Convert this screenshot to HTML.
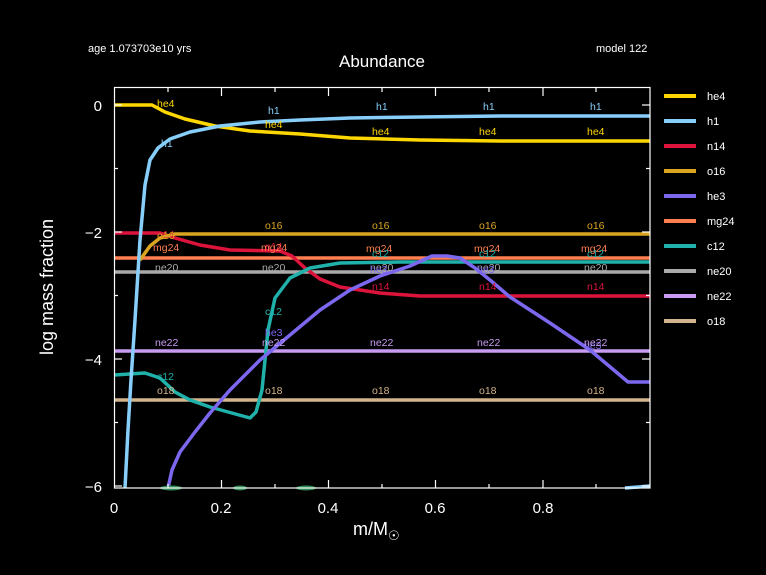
<!DOCTYPE html>
<html><head><meta charset="utf-8"><style>
html,body{margin:0;padding:0;background:#000;}
svg{display:block;font-family:"Liberation Sans",sans-serif;}
</style></head><body>
<svg width="766" height="575" viewBox="0 0 766 575" xmlns="http://www.w3.org/2000/svg">
<rect width="766" height="575" fill="#000"/>
<text x="88" y="52" fill="#fff" font-size="11">age 1.073703e10 yrs</text>
<text x="596" y="52" fill="#fff" font-size="11">model 122</text>
<text x="382" y="67" fill="#fff" font-size="17" text-anchor="middle">Abundance</text>
<g fill="none" stroke-width="3.5" stroke-linejoin="round">
<!-- mg24 -->
<line x1="114" y1="258" x2="650" y2="258" stroke="#ff7f50"/>
<!-- ne20 -->
<line x1="114" y1="272" x2="650" y2="272" stroke="#aaaaaa"/>
<!-- ne22 -->
<line x1="114" y1="351" x2="650" y2="351" stroke="#c89bf2"/>
<!-- o18 -->
<line x1="114" y1="400" x2="650" y2="400" stroke="#d2b48c"/>
<!-- n14 -->
<polyline stroke="#dc143c" points="114,233 160,233 175,238 200,245 230,250 280,251 292,256 305,268 320,279 340,287 380,293 420,296 650,296"/>
<!-- o16 -->
<polyline stroke="#daa520" points="140,260 150,246 160,238 175,234 200,234 650,234"/>
<!-- c12 -->
<polyline stroke="#20b2aa" points="114,375 145,373 160,378 175,392 190,400 210,407 250,418 256,412 262,390 268,330 275,298 290,278 310,268 340,263 400,262 650,262"/>
<!-- he3 -->
<polyline stroke="#7b68ee" points="168,488 172,470 180,452 195,432 210,413 230,390 260,360 290,335 320,310 350,290 380,276 410,266 432,256 447,256 460,258 475,268 490,280 510,297 550,323 590,350 628,382 650,382"/>
<!-- he4 -->
<polyline stroke="#ffd700" points="114,105 152,105 165,112 185,119 215,126 250,131 300,134 350,138 420,140 500,141 650,141"/>
<!-- h1 -->
<polyline stroke="#87cefa" points="125,488 128,430 131,380 135,320 140,240 145,185 150,160 158,148 170,139 190,132 220,126 260,122 300,120 350,118 420,117 500,116 650,116"/>
<polyline stroke="#87cefa" points="625,488 650,486"/>
</g>
<g fill="#2e8b57">
<ellipse cx="171" cy="488" rx="11" ry="2.5"/>
<ellipse cx="240" cy="488" rx="7" ry="2.5"/>
<ellipse cx="306" cy="488" rx="10" ry="2.5"/>
</g>
<g font-size="10.5">
<g fill="#ffd700"><text x="157" y="107">he4</text><text x="265" y="128">he4</text><text x="372" y="135">he4</text><text x="479" y="135">he4</text><text x="587" y="135">he4</text></g>
<g fill="#87cefa"><text x="161" y="147">h1</text><text x="268" y="114">h1</text><text x="376" y="110">h1</text><text x="483" y="110">h1</text><text x="590" y="110">h1</text></g>
<g fill="#dc143c"><text x="157" y="238">n14</text><text x="265" y="250">n14</text><text x="372" y="290">n14</text><text x="479" y="290">n14</text><text x="587" y="290">n14</text></g>
<g fill="#daa520"><text x="157" y="239">o16</text><text x="265" y="229">o16</text><text x="372" y="229">o16</text><text x="479" y="229">o16</text><text x="587" y="229">o16</text></g>
<g fill="#ff7f50"><text x="153" y="251">mg24</text><text x="261" y="251">mg24</text><text x="366" y="252">mg24</text><text x="474" y="252">mg24</text><text x="581" y="252">mg24</text></g>
<g fill="#20b2aa"><text x="157" y="380">c12</text><text x="265" y="315">c12</text><text x="372" y="257">c12</text><text x="479" y="257">c12</text><text x="587" y="257">c12</text></g>
<g fill="#aaaaaa"><text x="155" y="271">ne20</text><text x="262" y="271">ne20</text><text x="370" y="271">ne20</text><text x="477" y="271">ne20</text><text x="584" y="271">ne20</text></g>
<g fill="#7b68ee"><text x="265" y="336">he3</text><text x="370" y="273">he3</text><text x="477" y="273">he3</text><text x="584" y="349">he3</text></g>
<g fill="#c89bf2"><text x="155" y="346">ne22</text><text x="262" y="346">ne22</text><text x="370" y="346">ne22</text><text x="477" y="346">ne22</text><text x="584" y="346">ne22</text></g>
<g fill="#d2b48c"><text x="157" y="394">o18</text><text x="265" y="394">o18</text><text x="372" y="394">o18</text><text x="479" y="394">o18</text><text x="587" y="394">o18</text></g>
</g>
<!-- frame -->
<rect x="114.5" y="87.5" width="535.5" height="400.5" fill="none" stroke="#fff" stroke-width="1.2"/>
<g stroke="#fff" stroke-width="1.2">
<line x1="221.5" y1="488" x2="221.5" y2="480"/><line x1="328.5" y1="488" x2="328.5" y2="480"/><line x1="435.5" y1="488" x2="435.5" y2="480"/><line x1="543" y1="488" x2="543" y2="480"/>
<line x1="168" y1="488" x2="168" y2="484"/><line x1="275" y1="488" x2="275" y2="484"/><line x1="382" y1="488" x2="382" y2="484"/><line x1="489" y1="488" x2="489" y2="484"/><line x1="596" y1="488" x2="596" y2="484"/>
<line x1="221.5" y1="88" x2="221.5" y2="96"/><line x1="328.5" y1="88" x2="328.5" y2="96"/><line x1="435.5" y1="88" x2="435.5" y2="96"/><line x1="543" y1="88" x2="543" y2="96"/>
<line x1="168" y1="88" x2="168" y2="92"/><line x1="275" y1="88" x2="275" y2="92"/><line x1="382" y1="88" x2="382" y2="92"/><line x1="489" y1="88" x2="489" y2="92"/><line x1="596" y1="88" x2="596" y2="92"/>
<line x1="114" y1="105" x2="122" y2="105"/><line x1="114" y1="232" x2="122" y2="232"/><line x1="114" y1="359" x2="122" y2="359"/><line x1="114" y1="486" x2="122" y2="486"/>
<line x1="114" y1="168.5" x2="118" y2="168.5"/><line x1="114" y1="295.5" x2="118" y2="295.5"/><line x1="114" y1="422.5" x2="118" y2="422.5"/>
<line x1="650" y1="105" x2="642" y2="105"/><line x1="650" y1="232" x2="642" y2="232"/><line x1="650" y1="359" x2="642" y2="359"/><line x1="650" y1="486" x2="642" y2="486"/>
<line x1="650" y1="168.5" x2="646" y2="168.5"/><line x1="650" y1="295.5" x2="646" y2="295.5"/><line x1="650" y1="422.5" x2="646" y2="422.5"/>
</g>
<g fill="#fff" font-size="15">
<text x="114" y="513" text-anchor="middle">0</text>
<text x="221" y="513" text-anchor="middle">0.2</text>
<text x="328" y="513" text-anchor="middle">0.4</text>
<text x="435" y="513" text-anchor="middle">0.6</text>
<text x="543" y="513" text-anchor="middle">0.8</text>
<text x="102" y="111" text-anchor="end">0</text>
<text x="102" y="238" text-anchor="end">−2</text>
<text x="102" y="365" text-anchor="end">−4</text>
<text x="102" y="492" text-anchor="end">−6</text>
</g>
<text x="353" y="535" fill="#fff" font-size="18">m/M<tspan font-size="13" dy="5">☉</tspan></text>
<text transform="translate(53,287) rotate(-90)" fill="#fff" font-size="18" text-anchor="middle">log mass fraction</text>
<!-- legend -->
<g stroke-width="4">
<line x1="664" y1="96" x2="696" y2="96" stroke="#ffd700"/>
<line x1="664" y1="121" x2="696" y2="121" stroke="#87cefa"/>
<line x1="664" y1="146" x2="696" y2="146" stroke="#dc143c"/>
<line x1="664" y1="171" x2="696" y2="171" stroke="#daa520"/>
<line x1="664" y1="196" x2="696" y2="196" stroke="#7b68ee"/>
<line x1="664" y1="221" x2="696" y2="221" stroke="#ff7f50"/>
<line x1="664" y1="246" x2="696" y2="246" stroke="#20b2aa"/>
<line x1="664" y1="271" x2="696" y2="271" stroke="#aaaaaa"/>
<line x1="664" y1="296" x2="696" y2="296" stroke="#c89bf2"/>
<line x1="664" y1="321" x2="696" y2="321" stroke="#d2b48c"/>
</g>
<g fill="#fff" font-size="11">
<text x="707" y="100">he4</text><text x="707" y="125">h1</text><text x="707" y="150">n14</text><text x="707" y="175">o16</text><text x="707" y="200">he3</text><text x="707" y="225">mg24</text><text x="707" y="250">c12</text><text x="707" y="275">ne20</text><text x="707" y="300">ne22</text><text x="707" y="325">o18</text>
</g>
</svg>
</body></html>
